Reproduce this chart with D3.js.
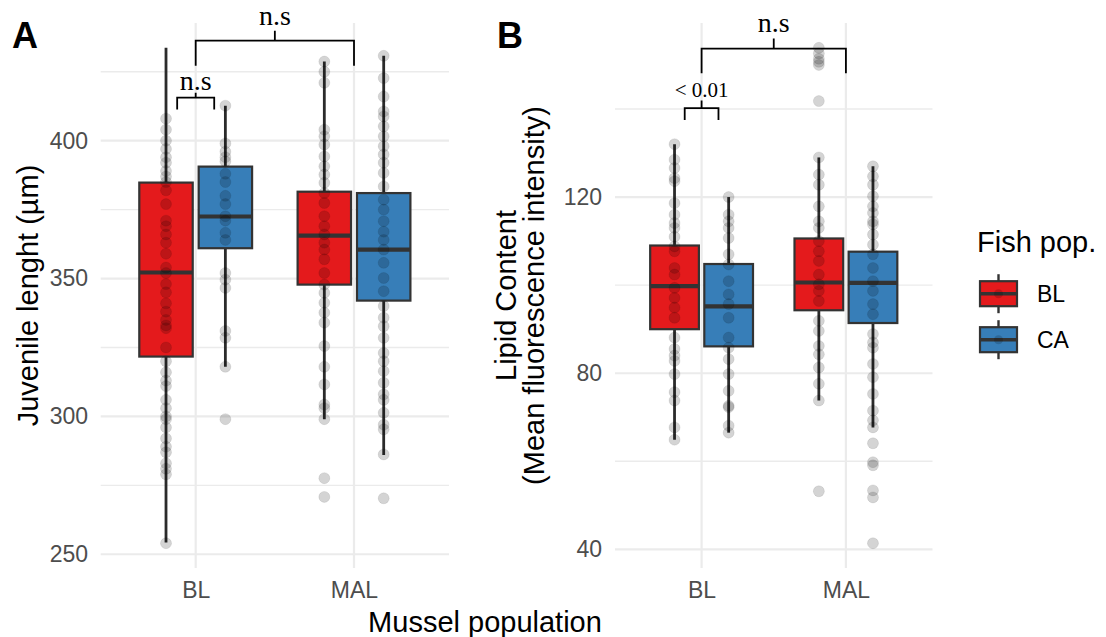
<!DOCTYPE html>
<html><head><meta charset="utf-8">
<script src="https://cdn.jsdelivr.net/npm/d3@7"></script>
<style>body{margin:0;background:#fff}</style>
</head><body>
<svg id="chart" width="1106" height="637"></svg>
<script>
// ---------- data ----------
const musselPops = ["BL", "MAL"];
const fishPops = ["BL", "CA"];
const fishColors = ["#E41A1C", "#377EB8"];
// group order: (mussel BL, fish BL), (mussel BL, fish CA), (mussel MAL, fish BL), (mussel MAL, fish CA)
const groupMussel = ["BL", "BL", "MAL", "MAL"];
const groupFish = ["BL", "CA", "BL", "CA"];

// Panel A: juvenile length
const lenLow = [254.3, 318.0, 299.0, 286.0];
const lenQ1 = [321.7, 361.0, 347.8, 342.0];
const lenMed = [352.2, 372.5, 365.6, 360.5];
const lenQ3 = [384.8, 390.6, 381.5, 381.0];
const lenHigh = [433.7, 412.7, 428.7, 430.8];
const lenPoints = [
  [408, 404, 400, 397, 394, 392, 389, 387, 385, 382, 377, 371, 369, 366, 363, 359, 354, 352, 348, 345, 341, 338, 335, 333, 332, 325, 320, 316, 313, 311, 306, 303, 300, 299, 296, 292, 289, 287, 283, 281, 279, 254],
  [412.7, 399, 396, 394, 392.5, 388, 385, 380, 377, 372.6, 371, 366.6, 364, 352, 349.6, 346.6, 331, 328.5, 318, 299],
  [428.7, 425, 421, 404, 401.6, 398.6, 394.3, 390.7, 387.7, 384.7, 381, 377.4, 372.6, 369, 366, 363, 360.5, 357, 352, 347.8, 344.8, 341.2, 337.6, 334, 325.5, 318, 311.6, 304.3, 303, 299, 277.6, 270.8],
  [430.8, 422.7, 416, 410.6, 408.8, 405.2, 401.6, 398, 395, 392, 388.3, 383.4, 378.6, 375, 370.8, 367, 364, 360.5, 355.7, 350.2, 345.4, 340, 335.8, 332.7, 328.5, 323, 320, 316.4, 312.2, 308, 306, 301.3, 297, 295.3, 286.2, 270.3]
];
const lenTicks = [250, 300, 350, 400];
const lenMinor = [275, 325, 375, 425];
const lenSigLabel = ["n.s", "n.s"];
const lenSigCat1 = ["BL", "BL"];
const lenSigCat2 = ["MAL", "BL"];
const lenSigOff1 = [0, -0.117];
const lenSigOff2 = [0, 0.117];
const lenSigBar = [436.3, 415.6];
const lenSigLeg = [427.2, 411.3];
const lenSigTick = [439.9, 417.4];
const lenSigText = [442.1, 418.5];
const lenSigSize = [28, 28];

// Panel B: lipid content
const lipLow = [64.9, 66.5, 73.8, 67.7];
const lipQ1 = [90.0, 86.1, 94.3, 91.4];
const lipMed = [99.8, 95.2, 100.6, 100.5];
const lipQ3 = [109.0, 104.8, 110.6, 107.6];
const lipHigh = [132.0, 120.0, 129.0, 127.0];
const lipPoints = [
  [132, 128.5, 126.6, 124.3, 123.6, 118.6, 116, 114.1, 113, 111, 108.8, 107.7, 103.9, 102.4, 99.4, 97.1, 94.9, 92.6, 88.1, 85.5, 84, 82.8, 79.8, 75.7, 73.8, 67.7, 64.9],
  [120, 116, 114.5, 113, 110.7, 107, 104.7, 100.9, 97.9, 95.7, 92.6, 88.1, 85.8, 83.2, 79.8, 76, 72.6, 72.3, 68.1, 66.5],
  [153.9, 152.6, 151.4, 150.7, 150, 141.8, 129, 125.1, 122.8, 117.9, 114.5, 113, 110, 107.7, 105.5, 102.4, 100.2, 98.7, 96.4, 91.9, 89.6, 86.2, 84.3, 81.3, 77.6, 73.8, 53.2],
  [127, 124.7, 122.8, 120.2, 117.9, 116.4, 114.5, 113.8, 111.5, 109.2, 107, 103.9, 100.9, 98.7, 95.7, 93.4, 88.9, 87, 85.8, 82.1, 79.1, 75.3, 71.5, 69.3, 67.7, 64.1, 59.8, 59.1, 53.4, 51.8, 41.4]
];
const lipTicks = [40, 80, 120];
const lipMinor = [60, 100, 140];
const lipSigLabel = ["n.s", "< 0.01"];
const lipSigCat1 = ["BL", "BL"];
const lipSigCat2 = ["MAL", "BL"];
const lipSigOff1 = [0, -0.117];
const lipSigOff2 = [0, 0.117];
const lipSigBar = [153.7, 140.2];
const lipSigLeg = [148.1, 137.5];
const lipSigTick = [156.0, 141.9];
const lipSigText = [157.5, 142.8];
const lipSigSize = [28, 21];

// ---------- drawing ----------
const SANS = "'Liberation Sans', Arial, Helvetica, sans-serif";
const SERIF = "'Liberation Serif', 'Times New Roman', serif";
const svg = d3.select("#chart");
const Y0 = 23, Y1 = 568;

function drawPanel(o) {
  const g = svg.append("g");
  const xPos = d3.scalePoint().domain(musselPops).range([o.x0, o.x1]).padding(0.6);
  const step = xPos.step();
  const inner = d3.scaleBand().domain(fishPops).range([-0.375 * step, 0.375 * step]);
  const bw = inner.bandwidth() * 0.9;
  const allLo = d3.min([...o.low, ...o.points.flat()]);
  const allHi = d3.max([...o.high, ...o.points.flat()]);
  const pad = (allHi - allLo) * 0.05;
  const y = d3.scaleLinear().domain([allLo - pad, allHi + pad]).range([Y1, Y0]);

  // grid
  g.selectAll(".minor").data(o.minor).join("line")
    .attr("x1", o.x0).attr("x2", o.x1).attr("y1", d => y(d)).attr("y2", d => y(d))
    .attr("stroke", "#EBEBEB").attr("stroke-width", 1.4);
  g.selectAll(".major").data(o.ticks).join("line")
    .attr("x1", o.x0).attr("x2", o.x1).attr("y1", d => y(d)).attr("y2", d => y(d))
    .attr("stroke", "#EBEBEB").attr("stroke-width", 2.2);
  g.selectAll(".vmajor").data(musselPops).join("line")
    .attr("x1", d => xPos(d)).attr("x2", d => xPos(d)).attr("y1", Y0).attr("y2", Y1)
    .attr("stroke", "#EBEBEB").attr("stroke-width", 2.2);

  // axes
  const ay = g.append("g").attr("transform", `translate(${o.x0},0)`)
    .call(d3.axisLeft(y).tickValues(o.ticks).tickSize(0).tickPadding(o.x0 - o.labelRight));
  const ax = g.append("g").attr("transform", `translate(0,${Y1})`)
    .call(d3.axisBottom(xPos).tickSize(0).tickPadding(13.7));
  [ay, ax].forEach(a => {
    a.select(".domain").remove();
    a.selectAll("text").attr("font-family", SANS).attr("font-size", 23).attr("fill", "#4D4D4D");
  });

  const idx = d3.range(groupMussel.length);
  const cx = i => xPos(groupMussel[i]) + inner(groupFish[i]) + inner.bandwidth() / 2;
  const col = i => fishColors[fishPops.indexOf(groupFish[i])];

  // whiskers
  g.selectAll(".wh").data(idx).join("line")
    .attr("x1", cx).attr("x2", cx).attr("y1", i => y(o.low[i])).attr("y2", i => y(o.high[i]))
    .attr("stroke", "#2b2b2b").attr("stroke-width", 2.8);
  // boxes
  g.selectAll(".box").data(idx).join("rect")
    .attr("x", i => cx(i) - bw / 2).attr("width", bw)
    .attr("y", i => y(o.q3[i])).attr("height", i => y(o.q1[i]) - y(o.q3[i]))
    .attr("fill", col).attr("stroke", "#333333").attr("stroke-width", 2.2);
  g.selectAll(".med").data(idx).join("line")
    .attr("x1", i => cx(i) - bw / 2).attr("x2", i => cx(i) + bw / 2)
    .attr("y1", i => y(o.med[i])).attr("y2", i => y(o.med[i]))
    .attr("stroke", "#333333").attr("stroke-width", 4.2);

  // points
  idx.forEach(i => {
    g.append("g").selectAll("circle").data(o.points[i]).join("circle")
      .attr("cx", cx(i)).attr("cy", d => y(d)).attr("r", 5.5)
      .attr("fill", "#000").attr("fill-opacity", 0.17)
      .attr("stroke", "#000").attr("stroke-opacity", 0.08).attr("stroke-width", 1);
  });

  // significance brackets
  o.sigLabel.forEach((lab, k) => {
    const xa = xPos(o.sigCat1[k]) + o.sigOff1[k] * step;
    const xb = xPos(o.sigCat2[k]) + o.sigOff2[k] * step;
    const xm = (xa + xb) / 2;
    const path = d3.path();
    path.moveTo(xa, y(o.sigLeg[k])); path.lineTo(xa, y(o.sigBar[k]));
    path.lineTo(xb, y(o.sigBar[k])); path.lineTo(xb, y(o.sigLeg[k]));
    path.moveTo(xm, y(o.sigBar[k])); path.lineTo(xm, y(o.sigTick[k]));
    g.append("path").attr("d", path.toString()).attr("fill", "none")
      .attr("stroke", "#000").attr("stroke-width", 1.8);
    g.append("text").attr("x", xm).attr("y", y(o.sigText[k]))
      .attr("text-anchor", "middle").attr("font-family", SERIF)
      .attr("font-size", o.sigSize[k]).attr("fill", "#000").text(lab);
  });
}

drawPanel({
  x0: 100.7, x1: 449, labelRight: 88,
  low: lenLow, q1: lenQ1, med: lenMed, q3: lenQ3, high: lenHigh, points: lenPoints,
  ticks: lenTicks, minor: lenMinor,
  sigLabel: lenSigLabel, sigCat1: lenSigCat1, sigCat2: lenSigCat2, sigOff1: lenSigOff1, sigOff2: lenSigOff2,
  sigBar: lenSigBar, sigLeg: lenSigLeg, sigTick: lenSigTick, sigText: lenSigText, sigSize: lenSigSize
});
drawPanel({
  x0: 615, x1: 932.5, labelRight: 602,
  low: lipLow, q1: lipQ1, med: lipMed, q3: lipQ3, high: lipHigh, points: lipPoints,
  ticks: lipTicks, minor: lipMinor,
  sigLabel: lipSigLabel, sigCat1: lipSigCat1, sigCat2: lipSigCat2, sigOff1: lipSigOff1, sigOff2: lipSigOff2,
  sigBar: lipSigBar, sigLeg: lipSigLeg, sigTick: lipSigTick, sigText: lipSigText, sigSize: lipSigSize
});

// tags
svg.append("text").attr("x", 12).attr("y", 48).attr("font-family", SANS).attr("font-weight", "bold")
  .attr("font-size", 36).text("A");
svg.append("text").attr("x", 497).attr("y", 48).attr("font-family", SANS).attr("font-weight", "bold")
  .attr("font-size", 36).text("B");

// axis titles
svg.append("text").attr("transform", "translate(38,295.5) rotate(-90)").attr("text-anchor", "middle")
  .attr("font-family", SANS).attr("font-size", 29).text("Juvenile lenght (µm)");
svg.append("text").attr("transform", "translate(516,295.5) rotate(-90)").attr("text-anchor", "middle")
  .attr("font-family", SANS).attr("font-size", 29).text("Lipid Content");
svg.append("text").attr("transform", "translate(544,295.5) rotate(-90)").attr("text-anchor", "middle")
  .attr("font-family", SANS).attr("font-size", 29).text("(Mean fluorescence intensity)");
svg.append("text").attr("x", 485).attr("y", 632).attr("text-anchor", "middle")
  .attr("font-family", SANS).attr("font-size", 29).text("Mussel population");

// legend
const leg = svg.append("g");
leg.append("text").attr("x", 977).attr("y", 252).attr("font-family", SANS).attr("font-size", 29).text("Fish pop.");
fishPops.forEach((f, i) => {
  const cy = 293.7 + i * 46;
  leg.append("line").attr("x1", 998.5).attr("x2", 998.5).attr("y1", cy - 19.5).attr("y2", cy + 19.5)
    .attr("stroke", "#333333").attr("stroke-width", 2.4);
  leg.append("rect").attr("x", 980).attr("y", cy - 12.5).attr("width", 37).attr("height", 25)
    .attr("fill", fishColors[i]).attr("stroke", "#333333").attr("stroke-width", 2.2);
  leg.append("line").attr("x1", 980).attr("x2", 1017).attr("y1", cy).attr("y2", cy)
    .attr("stroke", "#333333").attr("stroke-width", 3.5);
  leg.append("circle").attr("cx", 998.5).attr("cy", cy).attr("r", 4.5)
    .attr("fill", "#000").attr("fill-opacity", 0.17);
  leg.append("text").attr("x", 1037).attr("y", cy).attr("dy", "0.35em")
    .attr("font-family", SANS).attr("font-size", 23).text(f);
});
</script>
</body></html>
